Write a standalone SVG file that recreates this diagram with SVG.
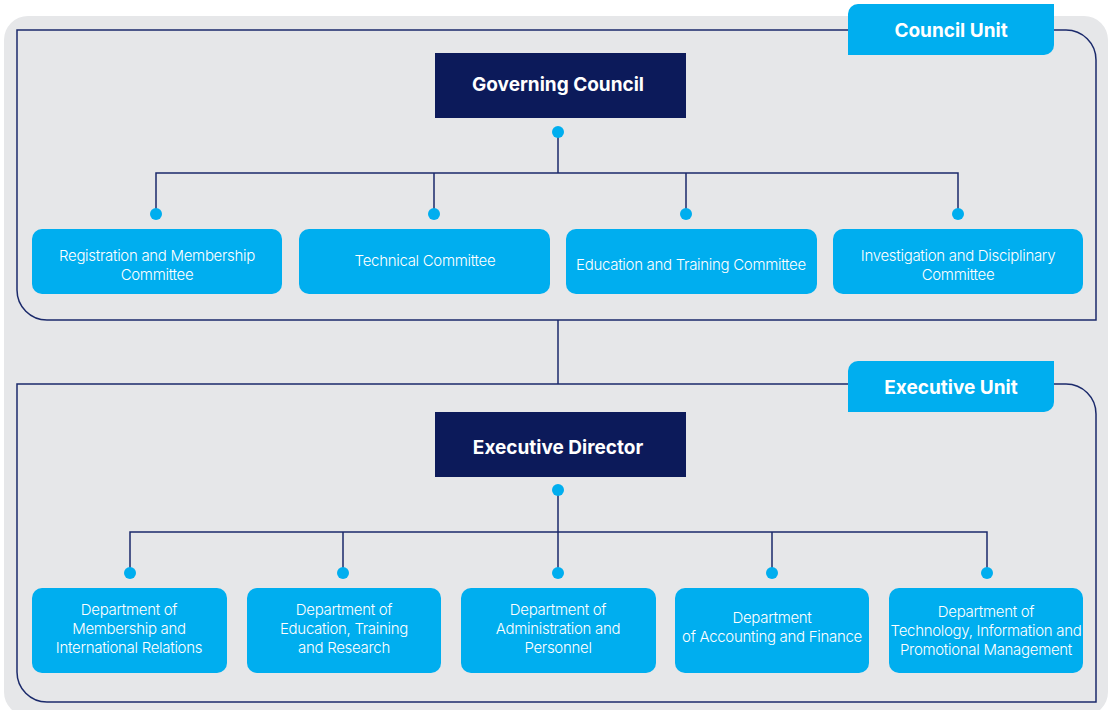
<svg xmlns="http://www.w3.org/2000/svg" width="1111" height="710" viewBox="0 0 1111 710">
<style>
.frame{fill:none;stroke:#1b2a6b;stroke-width:1.5}
.line{fill:none;stroke:#1b2a6b;stroke-width:1.5}
.dot{fill:#00aeef}
.tab{fill:#00aeef}
.head{fill:#0c1a5a}
.box{fill:#00aeef}
.tt{font-family:Inter,"Noto Sans",sans-serif;font-weight:700;fill:#ffffff;text-anchor:middle}
.bt{font-family:Inter,"Noto Sans",sans-serif;font-weight:300;font-size:15px;fill:#ffffff;text-anchor:middle;letter-spacing:-0.3px}
</style>
<rect x="4" y="16" width="1104" height="700" rx="24" fill="#e6e7e9"/>
<g id="council-unit">
<path class="frame" d="M17 30 H1066 A30 30 0 0 1 1096 60 V320 H47 A30 30 0 0 1 17 290 Z"/>
<path class="tab" d="M858 4 H1054 V45 A10 10 0 0 1 1044 55 H848 V14 A10 10 0 0 1 858 4 Z"/>
<text class="tt" x="951" y="37" font-size="19">Council Unit</text>
</g>
<g id="executive-unit">
<path class="frame" d="M17 384 H1066 A30 30 0 0 1 1096 414 V702 H47 A30 30 0 0 1 17 672 Z"/>
<path class="tab" d="M858 361 H1054 V402 A10 10 0 0 1 1044 412 H848 V371 A10 10 0 0 1 858 361 Z"/>
<text class="tt" x="951" y="394" font-size="19">Executive Unit</text>
</g>
<g id="connectors">
<path class="line" d="M558 132 V173 M156 214 V173 H958 V214 M434 173 V214 M686 173 V214"/>
<path class="line" d="M558 320 V384"/>
<path class="line" d="M558 490 V573 M130 573 V532 H987 V573 M343 532 V573 M772 532 V573"/>
<circle class="dot" cx="558" cy="132" r="6"/>
<circle class="dot" cx="156" cy="214" r="6"/>
<circle class="dot" cx="434" cy="214" r="6"/>
<circle class="dot" cx="686" cy="214" r="6"/>
<circle class="dot" cx="958" cy="214" r="6"/>
<circle class="dot" cx="558" cy="490" r="6"/>
<circle class="dot" cx="130" cy="573" r="6"/>
<circle class="dot" cx="343" cy="573" r="6"/>
<circle class="dot" cx="558" cy="573" r="6"/>
<circle class="dot" cx="772" cy="573" r="6"/>
<circle class="dot" cx="987" cy="573" r="6"/>
</g>
<g id="governing-council">
<rect class="head" x="435" y="53" width="251" height="65"/>
<text class="tt" x="558" y="91" font-size="19">Governing Council</text>
</g>
<g id="registration-committee">
<rect class="box" x="32" y="229" width="250" height="65" rx="10"/>
<text class="bt" x="157" y="261">Registration and Membership</text>
<text class="bt" x="157" y="280">Committee</text>
</g>
<g id="technical-committee">
<rect class="box" x="299" y="229" width="251" height="65" rx="10"/>
<text class="bt" x="425" y="266">Technical Committee</text>
</g>
<g id="education-committee">
<rect class="box" x="566" y="229" width="251" height="65" rx="10"/>
<text class="bt" x="691" y="270">Education and Training Committee</text>
</g>
<g id="investigation-committee">
<rect class="box" x="833" y="229" width="250" height="65" rx="10"/>
<text class="bt" x="958" y="261">Investigation and Disciplinary</text>
<text class="bt" x="958" y="280">Committee</text>
</g>
<g id="executive-director">
<rect class="head" x="435" y="412" width="251" height="65"/>
<text class="tt" x="558" y="454" font-size="19">Executive Director</text>
</g>
<g id="dept-membership">
<rect class="box" x="32" y="588" width="195" height="85" rx="10"/>
<text class="bt" x="129" y="615">Department of</text>
<text class="bt" x="129" y="634">Membership and</text>
<text class="bt" x="129" y="653">International Relations</text>
</g>
<g id="dept-education">
<rect class="box" x="247" y="588" width="194" height="85" rx="10"/>
<text class="bt" x="344" y="615">Department of</text>
<text class="bt" x="344" y="634">Education, Training</text>
<text class="bt" x="344" y="653">and Research</text>
</g>
<g id="dept-administration">
<rect class="box" x="461" y="588" width="195" height="85" rx="10"/>
<text class="bt" x="558" y="615">Department of</text>
<text class="bt" x="558" y="634">Administration and</text>
<text class="bt" x="558" y="653">Personnel</text>
</g>
<g id="dept-accounting">
<rect class="box" x="675" y="588" width="194" height="85" rx="10"/>
<text class="bt" x="772" y="623">Department</text>
<text class="bt" x="772" y="642">of Accounting and Finance</text>
</g>
<g id="dept-technology">
<rect class="box" x="889" y="588" width="194" height="85" rx="10"/>
<text class="bt" x="986" y="617">Department of</text>
<text class="bt" x="986" y="636">Technology, Information and</text>
<text class="bt" x="986" y="655">Promotional Management</text>
</g>
</svg>
